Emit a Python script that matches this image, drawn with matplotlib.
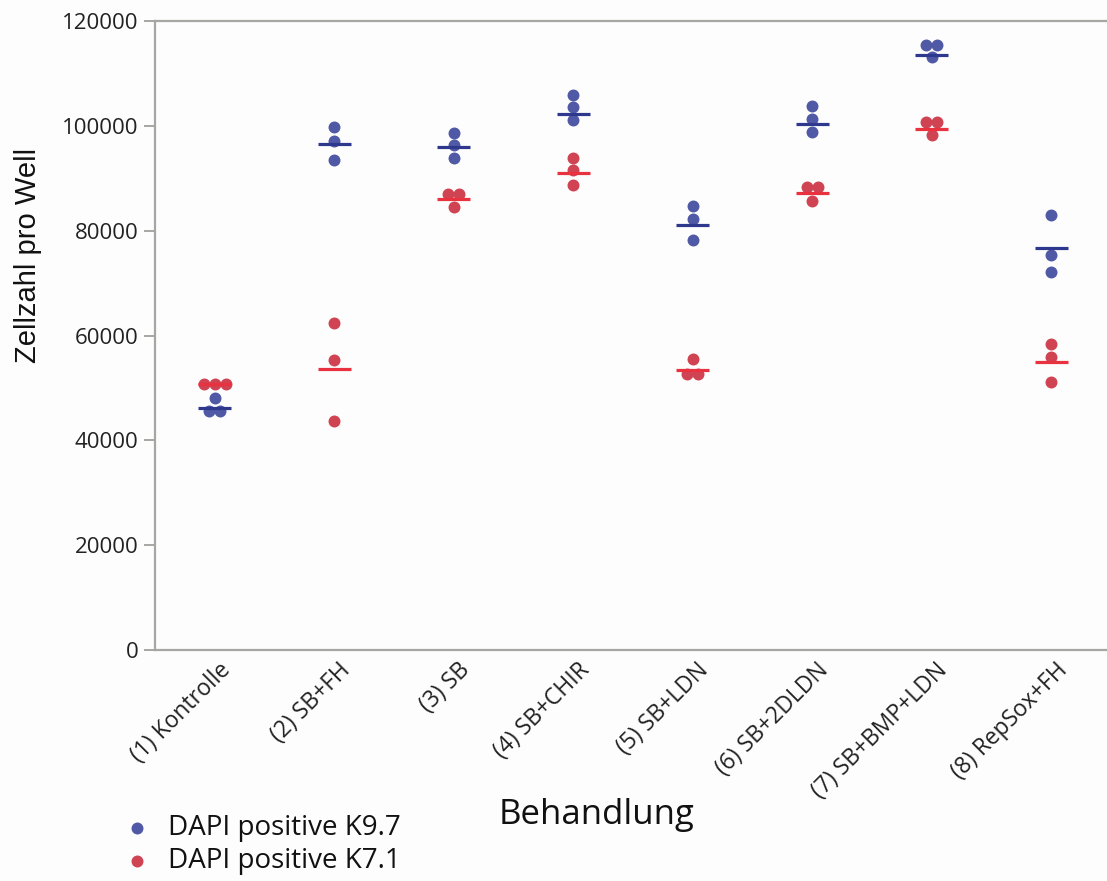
import numpy as np
import matplotlib
matplotlib.use("Agg")
import matplotlib.pyplot as plt
import matplotlib.transforms as mtransforms

# Behandlungen (x-Achse)
behandlung = ["(1) Kontrolle", "(2) SB+FH", "(3) SB", "(4) SB+CHIR",
              "(5) SB+LDN", "(6) SB+2DLDN", "(7) SB+BMP+LDN", "(8) RepSox+FH"]

# Zellzahl pro Well, je drei Wells pro Behandlung
k97 = [[48100, 45600, 45600],
       [99700, 97200, 93400],
       [98600, 96300, 93900],
       [105900, 103500, 101100],
       [84700, 82300, 78300],
       [103700, 101300, 98900],
       [115400, 115400, 113100],
       [82900, 75400, 72100]]
k97_mittel = [46200, 96600, 96000, 102300, 81100, 100300, 113600, 76600]

k71 = [[50700, 50700, 50700],
       [62400, 55400, 43700],
       [87000, 87000, 84600],
       [93900, 91600, 88800],
       [55600, 52600, 52600],
       [88300, 88300, 85600],
       [100800, 100800, 98300],
       [58300, 55900, 51200]]
k71_mittel = [50700, 53700, 86000, 91000, 53500, 87100, 99400, 54900]

blau_punkt, blau_linie = "#5059a6", "#2e388c"
rot_punkt, rot_linie = "#cf4352", "#e9323f"
grau = "#a8a6a3"


def versatz(werte, schritt=0.092, grenze=1500):
    # nah beieinander liegende Punkte nebeneinander legen
    werte = np.asarray(werte, dtype=float)
    off = np.zeros(len(werte))
    frei = list(np.argsort(werte))
    while frei:
        i = frei.pop(0)
        gruppe = [i] + [j for j in frei if abs(werte[j] - werte[i]) < grenze]
        frei = [j for j in frei if j not in gruppe]
        n = len(gruppe)
        for k, j in enumerate(gruppe):
            off[j] = (k - (n - 1) / 2) * schritt
    return off


fig = plt.figure(figsize=(11.07, 8.81), dpi=100)
fig.patch.set_facecolor("#fefdfd")
ax = fig.add_axes([155 / 1107, 1 - 650 / 881, 956 / 1107, 629 / 881])
ax.set_facecolor("#fefdfd")

x = np.arange(1, len(behandlung) + 1)
for xi, werte, m in zip(x, k97, k97_mittel):
    ax.scatter(xi + versatz(werte), werte, s=74, color=blau_punkt, lw=0, zorder=3)
    ax.hlines(m, xi - 0.138, xi + 0.138, color=blau_linie, lw=2.3, zorder=4)
for xi, werte, m in zip(x, k71, k71_mittel):
    ax.scatter(xi + versatz(werte), werte, s=74, color=rot_punkt, lw=0, zorder=3)
    ax.hlines(m, xi - 0.138, xi + 0.138, color=rot_linie, lw=2.3, zorder=4)

ax.set_xlim(0.5, 8.5)
ax.set_ylim(0, 120000)
ax.set_yticks(np.arange(0, 120001, 20000))
ax.set_yticklabels([str(v) for v in range(0, 120001, 20000)],
                   fontsize=16, family="Open Sans", color="#222222")
ax.tick_params(axis="y", length=8, width=1.4, color=grau, pad=4)
ax.tick_params(axis="x", length=0, pad=6)
ax.set_xticks(x)
ax.set_xticklabels(behandlung, rotation=45, ha="right", va="top",
                   rotation_mode="anchor", fontsize=16.5, family="Open Sans",
                   color="#222222")
shift = mtransforms.ScaledTranslation(4 / 100, 0, fig.dpi_scale_trans)
for lab in ax.get_xticklabels():
    lab.set_transform(lab.get_transform() + shift)

for s in ["left", "bottom", "top"]:
    ax.spines[s].set_color(grau)
    ax.spines[s].set_linewidth(1.6)
ax.spines["right"].set_visible(False)

fig.text(28 / 1107, 1 - 255 / 881, "Zellzahl pro Well", rotation=90,
         ha="center", va="center", fontsize=21, family="Liberation Sans",
         color="#111111")
fig.text(597 / 1107, 1 - 815 / 881, "Behandlung", ha="center", va="center",
         fontsize=25, family="Open Sans", color="#111111")

h1 = ax.scatter([], [], s=74, color=blau_punkt, lw=0)
h2 = ax.scatter([], [], s=74, color=rot_punkt, lw=0)
leg = fig.legend([h1, h2], ["DAPI positive K9.7", "DAPI positive K7.1"],
                 loc="upper left", bbox_to_anchor=(106 / 1107, 1 - 800 / 881),
                 frameon=False, prop={"family": "Open Sans", "size": 20},
                 handletextpad=0.55, labelspacing=0.2, borderpad=0,
                 handlelength=1.2)
for t in leg.get_texts():
    t.set_color("#111111")

fig.savefig("out.png", dpi=100, facecolor=fig.get_facecolor())
